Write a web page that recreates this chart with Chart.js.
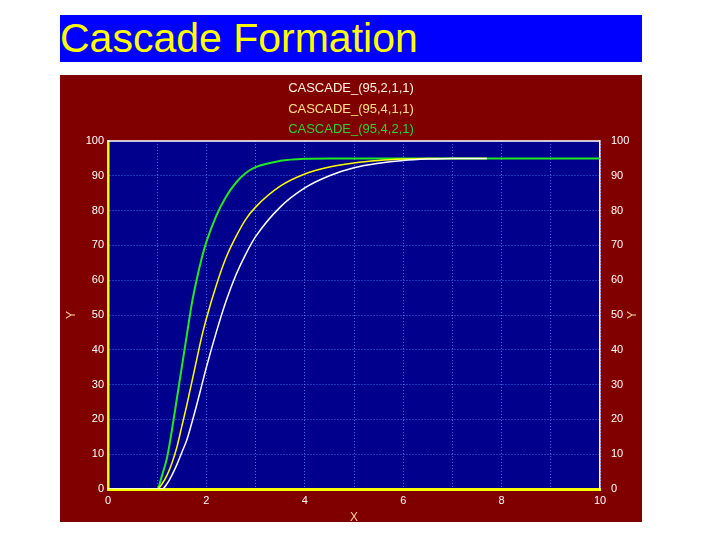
<!DOCTYPE html>
<html>
<head>
<meta charset="UTF-8" />
<title>Cascade Formation</title>
<script src="https://cdn.jsdelivr.net/npm/chart.js"></script>
<style>
  body {
    margin: 0;
    background: #ffffff;
    font-family: "Liberation Sans", Arial, sans-serif;
  }
  #title {
    position: absolute;
    left: 60px;
    top: 15px;
    width: 582px;
    height: 47px;
    background: #0000ff;
    color: #ffff00;
    font-size: 41px;
    line-height: 46px;
    white-space: nowrap;
  }
  #panel {
    position: absolute;
    left: 60px;
    top: 75px;
    width: 582px;
    height: 447px;
    background: #800000;
  }
</style>
</head>
<body>

<div id="title">Cascade Formation</div>
<div id="panel"><canvas id="chart" width="582" height="447"></canvas></div>

<script>
  // x positions shared by the three curves
  const xs = [0, 1, 1.1, 1.2, 1.3, 1.4, 1.5, 1.6, 1.7, 1.8, 1.9, 2.0, 2.2, 2.4, 2.6, 2.8, 3.0, 3.5, 4.0, 4.5, 5.0, 5.5, 6.0, 6.5, 7.0, 7.7, 8.0, 10];

  const seriesNames = ['CASCADE_(95,2,1,1)', 'CASCADE_(95,4,1,1)', 'CASCADE_(95,4,2,1)'];

  const white = [0, 0, 0, 1.5, 4, 7, 10.5, 14, 18.8, 24, 29.5, 35, 45, 54, 61.5, 67.5, 72.5, 81, 86.5, 90, 92.3, 93.6, 94.4, 94.8, 95, 95, null, null];
  const yellow = [0, 0, 1.5, 4, 7.5, 12, 18, 24, 30.5, 37, 43.5, 49, 58.5, 66.5, 72.5, 77.5, 81, 87, 90.5, 92.5, 93.7, 94.4, 94.8, 95, 95, 95, null, null];
  const green = [0, 0, 4, 9, 17, 26, 35, 44, 53, 60, 66, 71, 78.5, 84, 88, 90.8, 92.5, 94.3, 94.9, 95, 95, 95, 95, 95, 95, 95, 95, 95];

  const lineColors = ['#ffffff', '#ffff00', '#22e822'];
  const labelColors = ['#fff0e6', '#ffe08a', '#2fd22f'];

  function points(ys) {
    return xs.map((x, i) => ({ x: x, y: ys[i] }));
  }

  // plot background, top border and the text rows above the plot
  const framePlugin = {
    id: 'frame',
    beforeDraw(chart) {
      const a = chart.chartArea;
      const ctx = chart.ctx;
      ctx.save();
      ctx.fillStyle = '#00008c';
      ctx.fillRect(a.left, a.top, a.right - a.left, a.bottom - a.top);
      ctx.restore();
    },
    afterDraw(chart) {
      const a = chart.chartArea;
      const ctx = chart.ctx;
      ctx.save();
      ctx.strokeStyle = '#ffffff';
      ctx.lineWidth = 1.5;
      ctx.beginPath();
      ctx.moveTo(a.left, a.top);
      ctx.lineTo(a.right, a.top);
      ctx.stroke();

      ctx.font = '13px "Liberation Sans", Arial, sans-serif';
      ctx.textAlign = 'center';
      ctx.textBaseline = 'middle';
      const rows = [13, 34, 54];
      seriesNames.forEach((name, i) => {
        ctx.fillStyle = labelColors[i];
        ctx.fillText(name, 291, rows[i]);
      });

      // right hand axis title, same reading direction as the left one
      ctx.font = '12px "Liberation Sans", Arial, sans-serif';
      ctx.fillStyle = '#ffcf90';
      ctx.translate(573, (a.top + a.bottom) / 2);
      ctx.rotate(-Math.PI / 2);
      ctx.fillText('Y', 0, 0);
      ctx.restore();
    }
  };

  const tickFont = { family: '"Liberation Sans", Arial, sans-serif', size: 11 };
  const gridStyle = { color: 'rgba(70,120,255,0.9)', lineWidth: 1, drawTicks: false };

  new Chart(document.getElementById('chart'), {
    type: 'line',
    data: {
      datasets: [
        { label: seriesNames[0], data: points(white), borderColor: lineColors[0], borderWidth: 1.5 },
        { label: seriesNames[1], data: points(yellow), borderColor: lineColors[1], borderWidth: 1.5 },
        { label: seriesNames[2], data: points(green), borderColor: lineColors[2], borderWidth: 2 }
      ]
    },
    options: {
      responsive: false,
      animation: false,
      events: [],
      layout: { padding: { top: 66, left: 0, right: 0, bottom: 0 } },
      elements: {
        point: { radius: 0 },
        line: { cubicInterpolationMode: 'monotone', fill: false }
      },
      plugins: {
        legend: { display: false },
        tooltip: { enabled: false }
      },
      scales: {
        x: {
          type: 'linear',
          min: 0,
          max: 10,
          afterFit(s) { s.height = 33; },
          ticks: {
            stepSize: 1,
            autoSkip: false,
            color: '#ffffff',
            font: tickFont,
            padding: 5,
            maxRotation: 0,
            callback: v => (v % 2 === 0 ? v : '')
          },
          grid: gridStyle,
          border: { color: '#ffff00', width: 3, dash: [1, 2] },
          title: {
            display: true,
            text: 'X',
            color: '#ffcf90',
            font: { family: '"Liberation Sans", Arial, sans-serif', size: 12 },
            padding: { top: 0, bottom: -3 }
          }
        },
        y: {
          position: 'left',
          min: 0,
          max: 100,
          afterFit(s) { s.width = 48; },
          ticks: { stepSize: 10, color: '#ffffff', font: tickFont, padding: 4 },
          grid: gridStyle,
          border: { color: '#ffff00', width: 2.5, dash: [1, 2] },
          title: {
            display: true,
            text: 'Y',
            color: '#ffcf90',
            font: { family: '"Liberation Sans", Arial, sans-serif', size: 12 },
            padding: { top: 4, bottom: 0 }
          }
        },
        y2: {
          position: 'right',
          min: 0,
          max: 100,
          afterFit(s) { s.width = 42; },
          ticks: { stepSize: 10, color: '#ffffff', font: tickFont, padding: 3 },
          grid: { display: false },
          border: { color: '#ffffff', width: 1.5 }
        }
      }
    },
    plugins: [framePlugin]
  });
</script>

</body>
</html>
